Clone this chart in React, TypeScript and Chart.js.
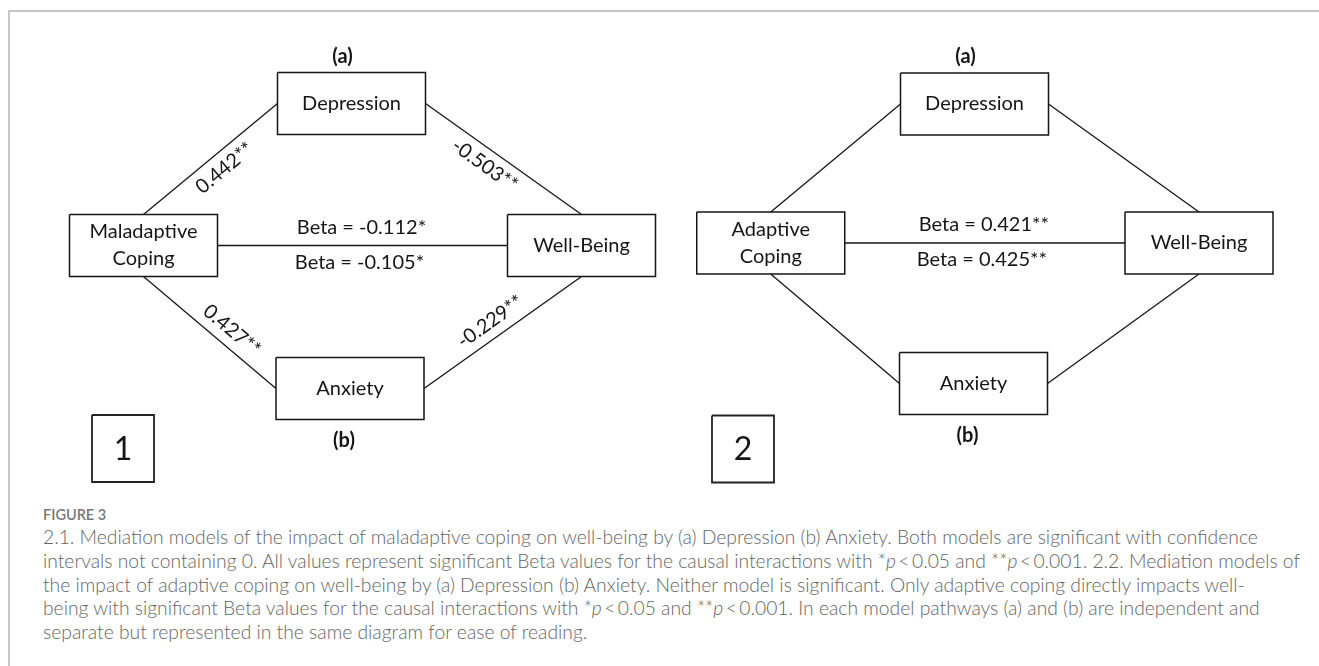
import React, { useEffect, useRef } from 'react';
import { Chart, registerables } from 'chart.js';

Chart.register(...registerables);

// ---------------- data ----------------
const PANEL_IDS = ['1', '2'];
const NODE_NAMES_1 = ['Depression', 'Maladaptive\nCoping', 'Well-Being', 'Anxiety'];
const NODE_NAMES_2 = ['Depression', 'Adaptive\nCoping', 'Well-Being', 'Anxiety'];
// node centres in diagram units
const NODE_X_1 = [351.5, 143.5, 581.5, 350];
const NODE_Y_1 = [103.5, 245.5, 245.5, 388.5];
const NODE_X_2 = [974.5, 770.75, 1199, 973.5];
const NODE_Y_2 = [104, 243, 243, 383.5];
const PATH_COEF_1 = ['0.442**', '-0.503**', '0.427**', '-0.229**'];
const PATH_COEF_2 = ['', '', '', ''];
const DIRECT_BETA_1 = ['Beta = -0.112*', 'Beta = -0.105*'];
const DIRECT_BETA_2 = ['Beta = 0.421**', 'Beta = 0.425**'];
const PATH_TAGS = ['(a)', '(b)'];
const PANEL_ID_X = [123, 743];
const PANEL_ID_Y = [448.5, 449];
const CAPTION_LABEL = 'FIGURE 3';

// ---------------- layout / style ----------------
const W = 1319;
const H = 500;
const BOX_W = 148;
const BOX_H = 62;
const NUM_W = 62;
const NUM_H = 67;
const LABEL_T = [0.53, 0.44, 0.59, 0.48];
const LABEL_OFF = 16;
const INK = '#161616';
const FONT = 'Lato, "Open Sans", sans-serif';
const NODE_FONT_PX = 20;

type Pt = { x: number; y: number };
type Side = 'top' | 'bottom' | 'left' | 'right';
const EDGES: [number, Side, number, Side][] = [
  [1, 'top', 0, 'left'],
  [0, 'right', 2, 'top'],
  [1, 'bottom', 3, 'left'],
  [3, 'right', 2, 'bottom'],
  [1, 'right', 2, 'left'],
];

function anchor(cx: number, cy: number, side: Side): Pt {
  if (side === 'top') return { x: cx, y: cy - BOX_H / 2 };
  if (side === 'bottom') return { x: cx, y: cy + BOX_H / 2 };
  if (side === 'left') return { x: cx - BOX_W / 2, y: cy };
  return { x: cx + BOX_W / 2, y: cy };
}

function rect(cx: number, cy: number, w: number, h: number): Pt[] {
  return [
    { x: cx - w / 2, y: cy - h / 2 },
    { x: cx + w / 2, y: cy - h / 2 },
    { x: cx + w / 2, y: cy + h / 2 },
    { x: cx - w / 2, y: cy + h / 2 },
    { x: cx - w / 2, y: cy - h / 2 },
  ];
}

const PANELS = [
  { names: NODE_NAMES_1, xs: NODE_X_1, ys: NODE_Y_1, coefs: PATH_COEF_1, betas: DIRECT_BETA_1 },
  { names: NODE_NAMES_2, xs: NODE_X_2, ys: NODE_Y_2, coefs: PATH_COEF_2, betas: DIRECT_BETA_2 },
];

function buildDatasets() {
  const ds: any[] = [];
  PANELS.forEach((p, pi) => {
    EDGES.forEach(([a, sa, b, sb]) => {
      ds.push({
        data: [anchor(p.xs[a], p.ys[a], sa), anchor(p.xs[b], p.ys[b], sb)],
        showLine: true,
        borderColor: INK,
        borderWidth: 1.3,
        pointRadius: 0,
      });
    });
    p.xs.forEach((x, i) => {
      ds.push({
        data: rect(x, p.ys[i], BOX_W, BOX_H),
        showLine: true,
        borderColor: INK,
        borderWidth: 1.5,
        pointRadius: 0,
      });
    });
    ds.push({
      data: rect(PANEL_ID_X[pi], PANEL_ID_Y[pi], NUM_W, NUM_H),
      showLine: true,
      borderColor: '#222',
      borderWidth: 1.8,
      pointRadius: 0,
    });
  });
  return ds;
}

const textPlugin = {
  id: 'diagramText',
  afterDatasetsDraw(chart: any) {
    const ctx = chart.ctx as CanvasRenderingContext2D;
    const sx = chart.scales.x;
    const sy = chart.scales.y;
    const px = (v: number) => sx.getPixelForValue(v);
    const py = (v: number) => sy.getPixelForValue(v);
    ctx.save();
    ctx.fillStyle = INK;
    ctx.textAlign = 'center';
    ctx.textBaseline = 'middle';
    PANELS.forEach((p, pi) => {
      // node names
      ctx.font = `${NODE_FONT_PX}px ${FONT}`;
      p.names.forEach((name, i) => {
        const lines = name.split('\n');
        lines.forEach((ln, li) => {
          const dy = (li - (lines.length - 1) / 2) * 27;
          ctx.fillText(ln, px(p.xs[i]), py(p.ys[i] + dy));
        });
      });
      // path coefficients (rotated along the edge)
      p.coefs.forEach((c, ei) => {
        if (!c) return;
        const [a, sa, b, sb] = EDGES[ei];
        const s = anchor(p.xs[a], p.ys[a], sa);
        const e = anchor(p.xs[b], p.ys[b], sb);
        const dx = e.x - s.x;
        const dy = e.y - s.y;
        const len = Math.hypot(dx, dy);
        const t = LABEL_T[ei];
        const mx = s.x + dx * t;
        const my = s.y + dy * t;
        const ccx = (p.xs[1] + p.xs[2]) / 2;
        const ccy = (p.ys[1] + p.ys[2]) / 2;
        let nx = -dy / len;
        let ny = dx / len;
        if ((ccx - mx) * nx + (ccy - my) * ny < 0) {
          nx = -nx;
          ny = -ny;
        }
        const lx = px(mx + nx * LABEL_OFF);
        const ly = py(my + ny * LABEL_OFF);
        ctx.save();
        ctx.translate(lx, ly);
        ctx.rotate(Math.atan2(py(e.y) - py(s.y), px(e.x) - px(s.x)));
        ctx.font = `${NODE_FONT_PX}px ${FONT}`;
        ctx.fillText(c, 0, 0);
        ctx.restore();
      });
      // direct effect betas
      const [a, sa, b, sb] = EDGES[4];
      const s = anchor(p.xs[a], p.ys[a], sa);
      const e = anchor(p.xs[b], p.ys[b], sb);
      const mx = (s.x + e.x) / 2;
      ctx.font = `${NODE_FONT_PX}px ${FONT}`;
      ctx.fillText(p.betas[0], px(mx - 1), py(s.y - 18));
      ctx.fillText(p.betas[1], px(mx - 3), py(s.y + 17));
      // (a) / (b) tags
      ctx.font = `bold ${NODE_FONT_PX}px ${FONT}`;
      ctx.fillText(PATH_TAGS[0], px(p.xs[0] - 9), py(p.ys[0] - BOX_H / 2 - 16));
      ctx.fillText(PATH_TAGS[1], px(p.xs[3] - 6), py(p.ys[3] + BOX_H / 2 + 21));
      // panel number
      ctx.font = `32px ${FONT}`;
      ctx.fillText(PANEL_IDS[pi], px(PANEL_ID_X[pi]), py(PANEL_ID_Y[pi] + 1));
    });
    ctx.restore();
  },
};

const CAPTION_STYLE: React.CSSProperties = {
  position: 'absolute',
  left: 43,
  top: 505,
  fontFamily: 'Lato, "Open Sans", sans-serif',
  color: '#666',
  whiteSpace: 'nowrap',
};

const P = () => <i>p</i>;
const LT = '\u2009<\u2009';

export default function App() {
  const ref = useRef<HTMLCanvasElement | null>(null);
  useEffect(() => {
    if (!ref.current) return;
    const chart = new Chart(ref.current, {
      type: 'scatter',
      data: { datasets: buildDatasets() },
      options: {
        responsive: false,
        animation: false,
        events: [],
        layout: { padding: 0 },
        plugins: { legend: { display: false }, tooltip: { enabled: false } },
        scales: {
          x: { type: 'linear', min: 0, max: W, display: false },
          y: { type: 'linear', min: 0, max: H, reverse: true, display: false },
        },
      },
      plugins: [textPlugin],
    });
    return () => chart.destroy();
  }, []);

  return (
    <div style={{ position: 'absolute', left: 0, top: 0, width: 1319, height: 666, background: '#fff', overflow: 'hidden' }}>
      <div
        style={{
          position: 'absolute',
          left: 8,
          top: 10,
          width: 1400,
          height: 800,
          borderLeft: '2px solid #c6c6c6',
          borderTop: '2px solid #c6c6c6',
        }}
      />
      <canvas ref={ref} width={W} height={H} style={{ position: 'absolute', left: 0, top: 0, display: 'block' }} />
      <div style={CAPTION_STYLE}>
        <div style={{ fontSize: 14.5, lineHeight: '20px', color: '#777', fontWeight: 600 }}>{CAPTION_LABEL}</div>
        <div style={{ fontSize: 19.3, lineHeight: '23.8px', fontWeight: 300 }}>
          <div>2.1. Mediation models of the impact of maladaptive coping on well-being by (a) Depression (b) Anxiety. Both models are significant with confidence</div>
          <div>
            intervals not containing 0. All values represent significant Beta values for the causal interactions with *<P />{LT}0.05 and **<P />{LT}0.001. 2.2. Mediation models of
          </div>
          <div>the impact of adaptive coping on well-being by (a) Depression (b) Anxiety. Neither model is significant. Only adaptive coping directly impacts well-</div>
          <div>
            being with significant Beta values for the causal interactions with *<P />{LT}0.05 and **<P />{LT}0.001. In each model pathways (a) and (b) are independent and
          </div>
          <div>separate but represented in the same diagram for ease of reading.</div>
        </div>
      </div>
    </div>
  );
}
